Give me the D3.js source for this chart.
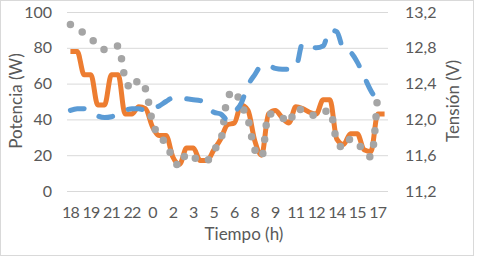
<!DOCTYPE html>
<html>
<head>
<meta charset="utf-8">
<script src="https://cdn.jsdelivr.net/npm/d3@7"></script>
<style>
  body { margin: 0; background: #fff; }
  svg text { font-family: Lato, "Open Sans", sans-serif; fill: #595959; }
</style>
</head>
<body>
<div id="chart"></div>
<script>
const width = 477;
const height = 259;

// hour of each sample (every 3rd one is shown on the axis)
const hours = [18,18,19,19,20,20,21,21,22,22,23,23,0,1,1,2,2,3,3,4,4,5,5,6,6,7,7,8,8,9,9,10,10,11,11,12,12,13,13,14,14,15,15,16,16,17,17];

// Potencia (W)
const potenciaNaranja = [78,78,65,65,48,48,65,65,43,43,47,46,36,31,31,19,15,24,24,17,17,23,29,37,38,48,45,28,20,43,45,41,38,47,46,44,43,51,51,29,26,32,32,23,22,43,43];
const potenciaGris = [93,91,88,85,82,79,80,81,63,57,62,57,39,30,27,18,14,21,19,17,17,23,28,52,56,48,40,23,19,43,43,41,38,46,45,43,42,44,45,28,24,29,27,22,19,55];

// Tensión (V)
const tension = [12.10,12.12,12.12,12.10,12.04,12.02,12.03,12.06,12.10,12.12,12.12,12.10,12.12,12.15,12.20,12.24,12.24,12.23,12.22,12.21,12.16,12.08,12.06,12.00,12.08,12.18,12.38,12.50,12.60,12.60,12.57,12.56,12.56,12.58,12.85,12.83,12.80,12.82,13.00,12.98,12.78,12.75,12.64,12.48,12.32,12.21];

const leftTicks = [0, 20, 40, 60, 80, 100];
const rightTicks = [11.2, 11.6, 12.0, 12.4, 12.8, 13.2];

const plot = { left: 67, right: 388, top: 12, bottom: 191 };

const svg = d3.select("#chart")
  .append("svg")
  .attr("width", width)
  .attr("height", height);

svg.append("rect")
  .attr("x", 0.5).attr("y", 0.5)
  .attr("width", 473).attr("height", 255)
  .attr("fill", "#fff")
  .attr("stroke", "#d9d9d9");

const x = d3.scaleBand()
  .domain(d3.range(hours.length))
  .range([plot.left, plot.right]);

const yLeft = d3.scaleLinear().domain([0, 100]).range([plot.bottom, plot.top]);
const yRight = d3.scaleLinear().domain([11.2, 13.2]).range([plot.bottom, plot.top]);

const cx = i => x(i) + x.bandwidth() / 2;

// gridlines + left axis
const gLeft = svg.append("g")
  .attr("transform", `translate(${plot.left},0)`)
  .call(d3.axisLeft(yLeft).tickValues(leftTicks).tickSize(-(plot.right - plot.left)).tickPadding(15));
gLeft.select(".domain").remove();
gLeft.selectAll("line").attr("stroke", "#d9d9d9");
gLeft.selectAll("text").attr("font-size", 16).attr("fill", "#595959");

// right axis
const gRight = svg.append("g")
  .attr("transform", `translate(${plot.right},0)`)
  .call(d3.axisRight(yRight).tickValues(rightTicks).tickSize(0).tickPadding(17)
    .tickFormat(d => d3.format(".1f")(d).replace(".", ",")));
gRight.select(".domain").remove();
gRight.selectAll("text").attr("font-size", 16).attr("fill", "#595959");

// category axis
const gBottom = svg.append("g")
  .attr("transform", `translate(0,${plot.bottom})`)
  .call(d3.axisBottom(x)
    .tickValues(d3.range(0, hours.length, 3))
    .tickFormat(i => hours[i])
    .tickSize(0).tickPadding(16));
gBottom.select(".domain").remove();
gBottom.selectAll("text").attr("font-size", 16).attr("fill", "#595959").attr("letter-spacing", -0.8);

// series
const lineLeft = d3.line()
  .x((d, i) => cx(i))
  .y(d => yLeft(d))
  .curve(d3.curveMonotoneX);

const lineRight = d3.line()
  .x((d, i) => cx(i))
  .y(d => yRight(d))
  .curve(d3.curveMonotoneX);

svg.append("path")
  .datum(potenciaNaranja)
  .attr("d", lineLeft)
  .attr("fill", "none")
  .attr("stroke", "#ed7d31")
  .attr("stroke-width", 5)
  .attr("stroke-linejoin", "round");

svg.append("path")
  .datum(potenciaGris)
  .attr("d", lineLeft)
  .attr("fill", "none")
  .attr("stroke", "#a5a5a5")
  .attr("stroke-width", 7.5)
  .attr("stroke-linecap", "round")
  .attr("stroke-dasharray", "0,14");

svg.append("path")
  .datum(tension)
  .attr("d", lineRight)
  .attr("fill", "none")
  .attr("stroke", "#5b9bd5")
  .attr("stroke-width", 5)
  .attr("stroke-linecap", "round")
  .attr("stroke-dasharray", "14,17");

// axis titles
svg.append("text")
  .attr("transform", "translate(16,101) rotate(-90)")
  .attr("text-anchor", "middle")
  .attr("dy", "0.35em")
  .attr("font-size", 17)
  .text("Potencia (W)");

svg.append("text")
  .attr("transform", "translate(453,101) rotate(-90)")
  .attr("text-anchor", "middle")
  .attr("dy", "0.35em")
  .attr("font-size", 17)
  .text("Tensión (V)");

svg.append("text")
  .attr("x", 244)
  .attr("y", 240)
  .attr("text-anchor", "middle")
  .attr("font-size", 17)
  .text("Tiempo (h)");
</script>
</body>
</html>
